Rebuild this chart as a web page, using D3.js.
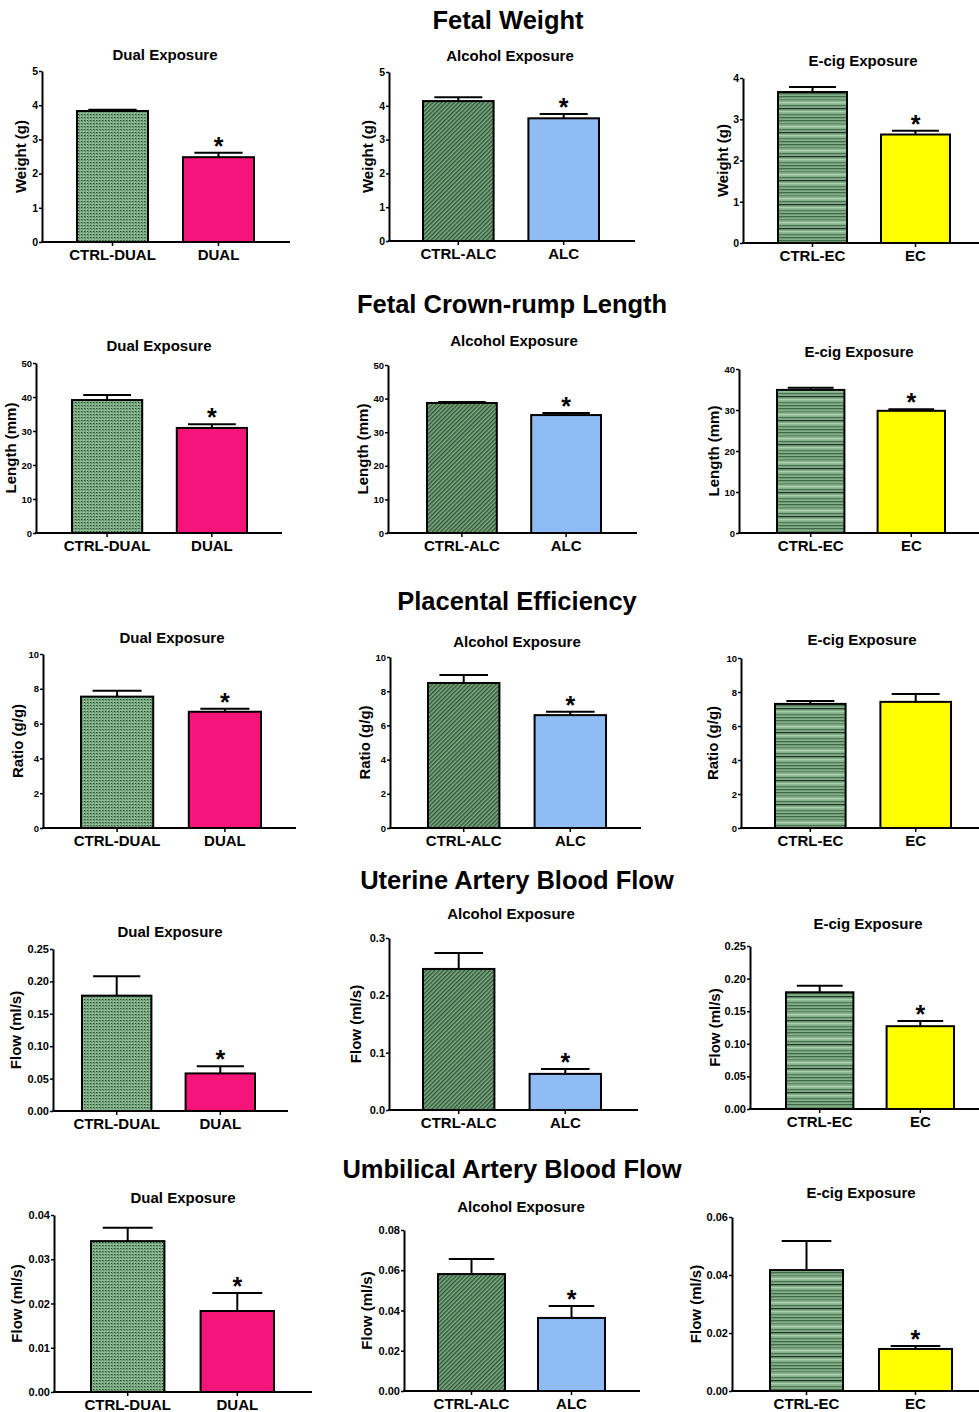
<!DOCTYPE html>
<html>
<head>
<meta charset="utf-8">
<script src="https://cdn.jsdelivr.net/npm/d3@7"></script>
<style>
  body { margin: 0; background: #fff; }
  svg text { font-family: "Liberation Sans", Arial, sans-serif; font-weight: bold; fill: #000; }
</style>
</head>
<body>
<svg id="chart" width="979" height="1412"></svg>
<script>
// ---- data ----
const rowTitles = ["Fetal Weight", "Fetal Crown-rump Length", "Placental Efficiency",
  "Uterine Artery Blood Flow", "Umbilical Artery Blood Flow"];
const panelTitles = ["Dual Exposure", "Alcohol Exposure", "E-cig Exposure"];
const dualCats = ["CTRL-DUAL", "DUAL"];
const alcCats = ["CTRL-ALC", "ALC"];
const ecCats = ["CTRL-EC", "EC"];
const yLabels = ["Weight (g)", "Length (mm)", "Ratio (g/g)", "Flow (ml/s)", "Flow (ml/s)"];

// means [dual, alcohol, e-cig] -> [control, exposed]
const weightMeans = [[3.83, 2.48], [4.14, 3.63], [3.66, 2.63]];
const weightSem = [[0.04, 0.13], [0.11, 0.13], [0.12, 0.09]];
const lengthMeans = [[39.1, 30.9], [38.7, 35.1], [34.9, 29.8]];
const lengthSem = [[1.5, 1.1], [0.3, 0.6], [0.5, 0.4]];
const ratioMeans = [[7.55, 6.68], [8.48, 6.6], [7.3, 7.42]];
const ratioSem = [[0.34, 0.17], [0.47, 0.2], [0.17, 0.46]];
const uterineMeans = [[0.178, 0.058], [0.246, 0.063], [0.179, 0.127]];
const uterineSem = [[0.03, 0.011], [0.028, 0.0085], [0.010, 0.008]];
const umbilicalMeans = [[0.0341, 0.0183], [0.0581, 0.0363], [0.0417, 0.0145]];
const umbilicalSem = [[0.003, 0.0041], [0.0075, 0.0059], [0.010, 0.001]];

const weightTicks = [[0, 1, 2, 3, 4, 5], [0, 1, 2, 3, 4, 5], [0, 1, 2, 3, 4]];
const lengthTicks = [[0, 10, 20, 30, 40, 50], [0, 10, 20, 30, 40, 50], [0, 10, 20, 30, 40]];
const ratioTicks = [[0, 2, 4, 6, 8, 10], [0, 2, 4, 6, 8, 10], [0, 2, 4, 6, 8, 10]];
const uterineTicks = [[0, 0.05, 0.10, 0.15, 0.20, 0.25], [0, 0.1, 0.2, 0.3], [0, 0.05, 0.10, 0.15, 0.20, 0.25]];
const umbilicalTicks = [[0, 0.01, 0.02, 0.03, 0.04], [0, 0.02, 0.04, 0.06, 0.08], [0, 0.02, 0.04, 0.06]];
const tickFormats = [["d", "d", "d"], ["d", "d", "d"], ["d", "d", "d"], [".2f", ".1f", ".2f"], [".2f", ".2f", ".2f"]];

// significance star on the exposed bar
const sigMarks = [[true, true, true], [true, true, true], [true, true, false], [true, true, true], [true, true, true]];

const allMeans = [weightMeans, lengthMeans, ratioMeans, uterineMeans, umbilicalMeans];
const allSem = [weightSem, lengthSem, ratioSem, uterineSem, umbilicalSem];
const allTicks = [weightTicks, lengthTicks, ratioTicks, uterineTicks, umbilicalTicks];
const catSets = [dualCats, alcCats, ecCats];

// ---- layout (pixel placement of each panel) ----
const rowTitlePos = [[508, 20], [512, 304], [517, 601], [517, 880], [512, 1169]];
const tickFontSize = [10.5, 9.5, 9.5, 11, 11];
// axisX, top, zero, barStart, barEnd, axisEnd, titleX, titleY, yLabelX
const panelBoxes = [
  [[42, 71, 242, 77, 254, 290, 165, 54, 22], [389, 72, 241, 423, 599, 635, 510, 55, 369], [743, 78, 243, 778, 950, 979, 863, 60, 727]],
  [[36, 363, 533, 72, 247, 282, 159, 345, 13], [388, 365, 533, 427, 601, 637, 514, 340, 366], [739, 369, 533, 777, 945, 979, 859, 351, 718]],
  [[43, 654, 828, 81, 261, 296, 172, 637, 20], [390, 657, 828, 428, 606, 641, 517, 641, 367], [741, 658, 828, 775, 951, 979, 862, 639, 714]],
  [[53, 949, 1111, 82, 255, 288, 170, 931, 17], [389, 938, 1110, 423, 601, 638, 511, 913, 357], [750, 946, 1109, 786, 954, 979, 868, 923, 717]],
  [[54, 1215, 1392, 91, 274, 312, 183, 1197, 18], [404, 1230, 1391, 438, 605, 640, 521, 1206, 368], [732, 1217, 1391, 770, 952, 979, 861, 1192, 697]]
];
const exposedColors = ["#f5157a", "#8fbcf5", "#ffff00"];
const controlFills = ["url(#patDual)", "url(#patAlc)", "url(#patEc)"];

const svg = d3.select("#chart");
const defs = svg.append("defs");

// dotted grid for the dual control
const pDual = defs.append("pattern").attr("id", "patDual")
  .attr("patternUnits", "userSpaceOnUse").attr("width", 3).attr("height", 3);
pDual.append("rect").attr("width", 3).attr("height", 3).attr("fill", "#7dab84");
pDual.append("rect").attr("width", 1).attr("height", 1).attr("fill", "#284d2f");
pDual.append("rect").attr("x", 1).attr("width", 1).attr("height", 3).attr("fill", "#5f8d67");
pDual.append("rect").attr("y", 2).attr("width", 3).attr("height", 0.6).attr("fill", "#9fcba4");

// diagonal hatch for the alcohol control
const pAlc = defs.append("pattern").attr("id", "patAlc")
  .attr("patternUnits", "userSpaceOnUse").attr("width", 3).attr("height", 3)
  .attr("patternTransform", "rotate(45)");
pAlc.append("rect").attr("width", 3).attr("height", 3).attr("fill", "#7eab84");
pAlc.append("rect").attr("width", 1.4).attr("height", 3).attr("fill", "#2f5536");

// horizontal stripes for the e-cig control
const pEc = defs.append("pattern").attr("id", "patEc")
  .attr("patternUnits", "userSpaceOnUse").attr("width", 8).attr("height", 24);
pEc.append("rect").attr("width", 8).attr("height", 24).attr("fill", "#84b089");
[[0, "#3e6a46"], [3, "#5e8b65"], [6, "#b2d8b5"], [9, "#4a7552"], [12, "#1d3522"],
 [15, "#a5cfa9"], [18, "#557f5c"], [21, "#3e6a46"]].forEach(([yy, c]) => {
  pEc.append("rect").attr("y", yy).attr("width", 8).attr("height", 1.3).attr("fill", c);
});

rowTitles.forEach((t, r) => {
  svg.append("text")
    .attr("x", rowTitlePos[r][0]).attr("y", rowTitlePos[r][1])
    .attr("text-anchor", "middle").attr("dominant-baseline", "central")
    .style("font-size", "25.5px").text(t);
});

allMeans.forEach((groupMeans, r) => {
  groupMeans.forEach((means, c) => {
    const [ax, top, zero, b0, b1, xEnd, tx, ty, lx] = panelBoxes[r][c];
    const cats = catSets[c];
    const ticks = allTicks[r][c];
    const sem = allSem[r][c];
    const g = svg.append("g");

    const y = d3.scaleLinear().domain([0, d3.max(ticks)]).range([zero, top]);
    const x = d3.scaleBand().domain(cats).range([b0, b1]).paddingInner(0.33).paddingOuter(0);

    g.append("text").attr("x", tx).attr("y", ty)
      .attr("text-anchor", "middle").attr("dominant-baseline", "central")
      .style("font-size", "15px").text(panelTitles[c]);

    // bars
    g.selectAll(".bar").data(cats).enter().append("rect")
      .attr("x", d => x(d))
      .attr("y", (d, i) => y(means[i]))
      .attr("width", x.bandwidth())
      .attr("height", (d, i) => zero - y(means[i]))
      .attr("fill", (d, i) => i === 0 ? controlFills[c] : exposedColors[c])
      .attr("stroke", "#000").attr("stroke-width", 2);

    // error bars
    const cap = x.bandwidth() * 0.34;
    cats.forEach((d, i) => {
      const cx = x(d) + x.bandwidth() / 2;
      g.append("line").attr("x1", cx).attr("x2", cx)
        .attr("y1", y(means[i])).attr("y2", y(means[i] + sem[i]))
        .attr("stroke", "#000").attr("stroke-width", 2);
      g.append("line").attr("x1", cx - cap).attr("x2", cx + cap)
        .attr("y1", y(means[i] + sem[i])).attr("y2", y(means[i] + sem[i]))
        .attr("stroke", "#000").attr("stroke-width", 2);
    });

    if (sigMarks[r][c]) {
      const d = cats[1];
      g.append("text")
        .attr("x", x(d) + x.bandwidth() / 2)
        .attr("y", y(means[1] + sem[1]) + 2)
        .attr("text-anchor", "middle")
        .style("font-size", "25px").text("*");
    }

    // y axis
    const yAxis = g.append("g").attr("transform", `translate(${ax},0)`)
      .call(d3.axisLeft(y).tickValues(ticks).tickSize(3).tickSizeOuter(0)
        .tickFormat(d3.format(tickFormats[r][c])));
    yAxis.select(".domain").attr("stroke-width", 2);
    yAxis.selectAll(".tick line").attr("stroke-width", 1.5);
    yAxis.selectAll(".tick text").attr("x", -4).style("font-size", tickFontSize[r] + "px")
      .style("font-family", "'Liberation Sans', Arial, sans-serif").style("font-weight", "bold");

    // keep the y title clear of the tick labels (lx = visual centre of the glyphs)
    let tickLeft = ax;
    yAxis.selectAll(".tick text").each(function () {
      const bb = this.getBBox();
      tickLeft = Math.min(tickLeft, ax + bb.x);
    });
    const baseX = Math.min(lx + 4, tickLeft - 5);
    g.append("text")
      .attr("transform", `translate(${baseX},${(top + zero) / 2}) rotate(-90)`)
      .attr("text-anchor", "middle")
      .style("font-size", "15px").text(yLabels[r]);

    // x axis
    const xAxis = g.append("g").attr("transform", `translate(0,${zero})`)
      .call(d3.axisBottom(x).tickSize(4).tickPadding(3));
    xAxis.select(".domain").remove();
    xAxis.selectAll(".tick line").attr("stroke-width", 1.5);
    xAxis.selectAll(".tick text").style("font-size", "15px")
      .style("font-family", "'Liberation Sans', Arial, sans-serif").style("font-weight", "bold");
    g.append("line").attr("x1", ax - 1).attr("x2", xEnd)
      .attr("y1", zero).attr("y2", zero)
      .attr("stroke", "#000").attr("stroke-width", 2);
  });
});
</script>
</body>
</html>
